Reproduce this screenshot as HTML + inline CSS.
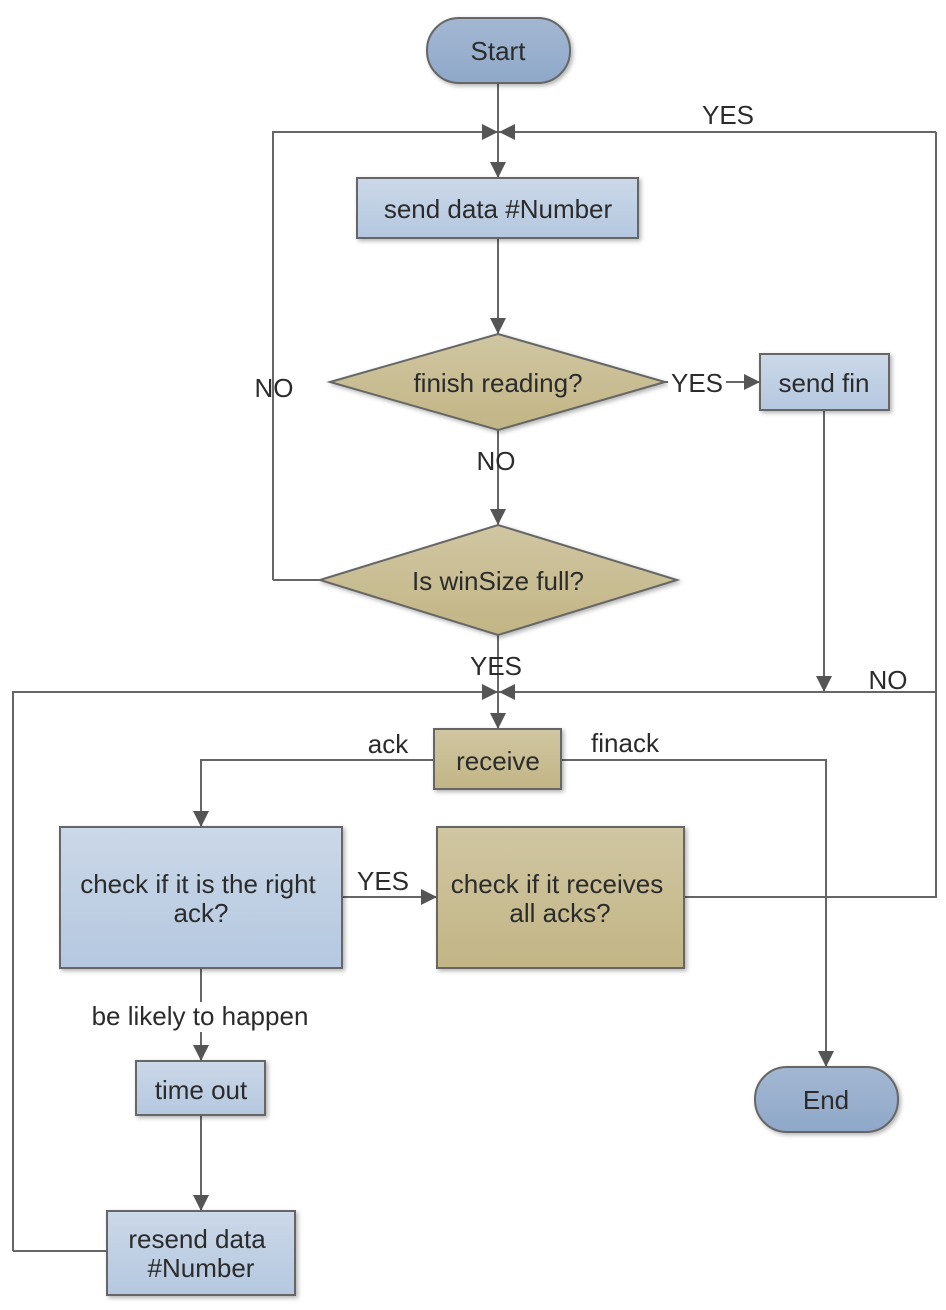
<!DOCTYPE html>
<html><head><meta charset="utf-8"><style>
html,body{margin:0;padding:0;background:#fff;}
svg{display:block;}
text{font-family:"Liberation Sans",sans-serif;font-size:26px;fill:#2b2b2b;text-anchor:middle;}
</style></head><body>
<svg width="946" height="1310" viewBox="0 0 946 1310" xmlns="http://www.w3.org/2000/svg">
<defs>
<linearGradient id="blue" x1="0" y1="0" x2="0" y2="1"><stop offset="0" stop-color="#cbd8e8"/><stop offset="1" stop-color="#b5c8e0"/></linearGradient>
<linearGradient id="term" x1="0" y1="0" x2="0" y2="1"><stop offset="0" stop-color="#a3b7d2"/><stop offset="1" stop-color="#8fa8c9"/></linearGradient>
<linearGradient id="tan" x1="0" y1="0" x2="0" y2="1"><stop offset="0" stop-color="#d0c6a2"/><stop offset="1" stop-color="#c2b585"/></linearGradient>
<filter id="sh" x="-10%" y="-10%" width="130%" height="130%"><feDropShadow dx="2" dy="2" stdDeviation="2" flood-color="#000" flood-opacity="0.3"/></filter>
<marker id="ar" markerWidth="18" markerHeight="18" refX="16" refY="8" orient="auto" markerUnits="userSpaceOnUse"><path d="M0,0 L16,8 L0,16 Z" fill="#555"/></marker>
</defs>
<g stroke="#666" stroke-width="2" fill="none">
<path d="M498 83 V178" marker-end="url(#ar)"/>
<path d="M273 580 H320 M273 580 V132 H498" />
<path d="M273 132 H498" marker-end="url(#ar)"/>
<path d="M936 132 H499" marker-end="url(#ar)"/>
<path d="M936 132 V897 H684"/>
<path d="M498 238 V334" marker-end="url(#ar)"/>
<path d="M665 382 H760" marker-end="url(#ar)"/>
<path d="M824 410 V692" marker-end="url(#ar)"/>
<path d="M498 430 V525" marker-end="url(#ar)"/>
<path d="M498 635 V729" marker-end="url(#ar)"/>
<path d="M13 1251 V692 H498" marker-end="url(#ar)"/>
<path d="M936 692 H499" marker-end="url(#ar)"/>
<path d="M13 1251 H107"/>
<path d="M434 760 H201 V827" marker-end="url(#ar)"/>
<path d="M561 760 H826 V1067" marker-end="url(#ar)"/>
<path d="M342 897 H437" marker-end="url(#ar)"/>
<path d="M201 968 V1061" marker-end="url(#ar)"/>
<path d="M201 1115 V1211" marker-end="url(#ar)"/>
</g>
<g stroke="#666" stroke-width="2" filter="url(#sh)">
<rect x="427" y="18" width="143" height="65" rx="32" fill="url(#term)"/>
<rect x="357" y="178" width="281" height="60" fill="url(#blue)"/>
<polygon points="330,382 498,334 665,382 498,430" fill="url(#tan)"/>
<rect x="760" y="354" width="129" height="56" fill="url(#blue)"/>
<polygon points="320,580 498,525 677,580 498,635" fill="url(#tan)"/>
<rect x="434" y="729" width="127" height="60" fill="url(#tan)"/>
<rect x="60" y="827" width="282" height="141" fill="url(#blue)"/>
<rect x="437" y="827" width="247" height="141" fill="url(#tan)"/>
<rect x="136" y="1061" width="129" height="54" fill="url(#blue)"/>
<rect x="107" y="1211" width="188" height="84" fill="url(#blue)"/>
<rect x="755" y="1067" width="143" height="65" rx="32" fill="url(#term)"/>
</g>
<g fill="#fff">
<rect x="668" y="369" width="58" height="26"/>
<rect x="88" y="1002" width="226" height="30"/>
</g>
<text x="498" y="60">Start</text>
<text x="498" y="218">send data #Number</text>
<text x="498" y="392">finish reading?</text>
<text x="824" y="392">send fin</text>
<text x="498" y="590">Is winSize full?</text>
<text x="498" y="770">receive</text>
<text x="198" y="893">check if it is the right</text>
<text x="201" y="922">ack?</text>
<text x="557" y="893">check if it receives</text>
<text x="560" y="922">all acks?</text>
<text x="201" y="1099">time out</text>
<text x="197" y="1248">resend data</text>
<text x="201" y="1277">#Number</text>
<text x="826" y="1109">End</text>
<text x="728" y="124">YES</text>
<text x="697" y="392">YES</text>
<text x="274" y="397">NO</text>
<text x="496" y="470">NO</text>
<text x="496" y="675">YES</text>
<text x="888" y="689">NO</text>
<text x="388" y="753">ack</text>
<text x="625" y="752">finack</text>
<text x="383" y="890">YES</text>
<text x="200" y="1025">be likely to happen</text>
</svg>
</body></html>
